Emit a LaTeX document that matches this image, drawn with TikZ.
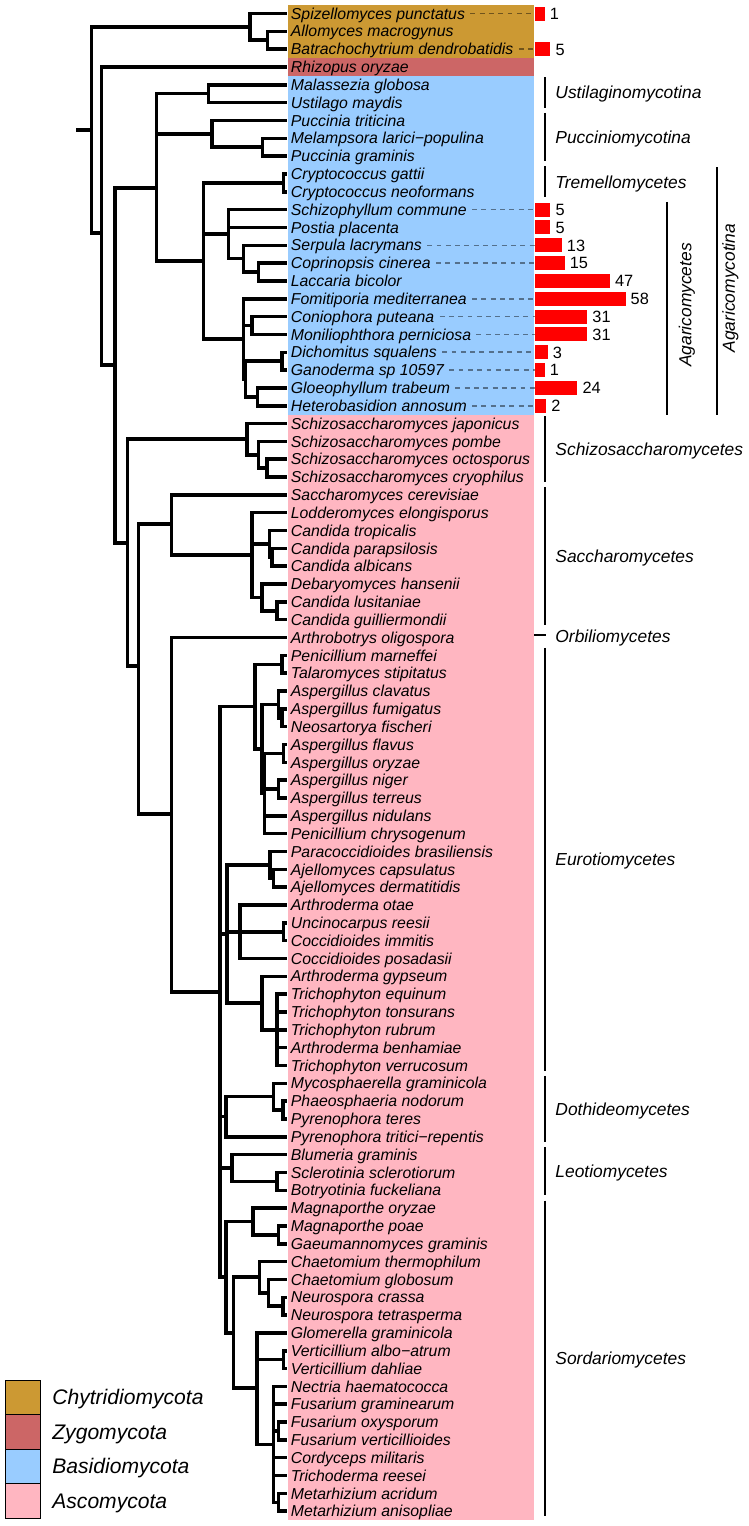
\documentclass[tikz,border=0pt]{standalone}
\usepackage{fontspec}
\setmainfont{Liberation Sans}
\definecolor{chy}{HTML}{CC9933}
\definecolor{zyg}{HTML}{CC6666}
\definecolor{bas}{HTML}{99CCFF}
\definecolor{asc}{HTML}{FFB6C1}
\tikzset{
  br/.style={line width=2pt, line join=miter},
  sp/.style={anchor=west, inner sep=0pt, font=\itshape\fontsize{9}{10}\selectfont, text height=6.44pt, text depth=0pt},
  barbox/.style={anchor=west, fill=red, draw=none, inner sep=0pt, minimum height=0.28cm},
  numlab/.style={anchor=west, inner sep=0pt, font=\fontsize{9.3}{10}\selectfont, text height=6.66pt, text depth=0pt},
  dsh/.style={line width=0.9pt, draw=black, draw opacity=0.45, dash pattern=on 2.8pt off 2.5pt},
  cladeline/.style={line width=1.4pt},
  cladelab/.style={anchor=west, inner sep=0pt, font=\itshape\fontsize{9.9}{11}\selectfont, text height=7.09pt, text depth=0pt},
  legbox/.style={draw=black, line width=0.5pt, minimum width=0.7cm, minimum height=0.69cm, inner sep=0pt},
  leglab/.style={anchor=west, inner sep=0pt, font=\itshape\fontsize{12}{14}\selectfont, text height=8.6pt, text depth=0pt},
}
\begin{document}
\begin{tikzpicture}[x=0.02cm, y=-0.3566cm]
\useasboundingbox (0,0.2429) rectangle (748,85.83);

% coloured bands
\fill[chy] (287.5,0.5) rectangle (534,3.5);
\fill[zyg] (287.5,3.5) rectangle (534,4.5);
\fill[bas] (287.5,4.5) rectangle (534,23.5);
\fill[asc] (287.5,23.5) rectangle (534,85.5);

% leaves and labels
\foreach \i/\nm in {
1/Spizellomyces punctatus, 2/Allomyces macrogynus, 3/Batrachochytrium dendrobatidis,
4/Rhizopus oryzae, 5/Malassezia globosa, 6/Ustilago maydis, 7/Puccinia triticina,
8/Melampsora larici−populina, 9/Puccinia graminis, 10/Cryptococcus gattii,
11/Cryptococcus neoformans, 12/Schizophyllum commune, 13/Postia placenta,
14/Serpula lacrymans, 15/Coprinopsis cinerea, 16/Laccaria bicolor,
17/Fomitiporia mediterranea, 18/Coniophora puteana, 19/Moniliophthora perniciosa,
20/Dichomitus squalens, 21/Ganoderma sp 10597, 22/Gloeophyllum trabeum,
23/Heterobasidion annosum, 24/Schizosaccharomyces japonicus, 25/Schizosaccharomyces pombe,
26/Schizosaccharomyces octosporus, 27/Schizosaccharomyces cryophilus,
28/Saccharomyces cerevisiae, 29/Lodderomyces elongisporus, 30/Candida tropicalis,
31/Candida parapsilosis, 32/Candida albicans, 33/Debaryomyces hansenii,
34/Candida lusitaniae, 35/Candida guilliermondii, 36/Arthrobotrys oligospora,
37/Penicillium marneffei, 38/Talaromyces stipitatus, 39/Aspergillus clavatus,
40/Aspergillus fumigatus, 41/Neosartorya fischeri, 42/Aspergillus flavus,
43/Aspergillus oryzae, 44/Aspergillus niger, 45/Aspergillus terreus,
46/Aspergillus nidulans, 47/Penicillium chrysogenum, 48/Paracoccidioides brasiliensis,
49/Ajellomyces capsulatus, 50/Ajellomyces dermatitidis, 51/Arthroderma otae,
52/Uncinocarpus reesii, 53/Coccidioides immitis, 54/Coccidioides posadasii,
55/Arthroderma gypseum, 56/Trichophyton equinum, 57/Trichophyton tonsurans,
58/Trichophyton rubrum, 59/Arthroderma benhamiae, 60/Trichophyton verrucosum,
61/Mycosphaerella graminicola, 62/Phaeosphaeria nodorum, 63/Pyrenophora teres,
64/Pyrenophora tritici−repentis, 65/Blumeria graminis, 66/Sclerotinia sclerotiorum,
67/Botryotinia fuckeliana, 68/Magnaporthe oryzae, 69/Magnaporthe poae,
70/Gaeumannomyces graminis, 71/Chaetomium thermophilum, 72/Chaetomium globosum,
73/Neurospora crassa, 74/Neurospora tetrasperma, 75/Glomerella graminicola,
76/Verticillium albo−atrum, 77/Verticillium dahliae, 78/Nectria haematococca,
79/Fusarium graminearum, 80/Fusarium oxysporum, 81/Fusarium verticillioides,
82/Cordyceps militaris, 83/Trichoderma reesei, 84/Metarhizium acridum,
85/Metarhizium anisopliae}{
  \coordinate (L\i) at (287,\i);
  \node[sp] (n\i) at (290.5,\i) {\nm};
}

% internal nodes
\coordinate (rs) at (76,7.53);
\coordinate (root) at (91.7,7.53);
\coordinate (Ch) at (250,1.75);
\coordinate (Ch2) at (267.3,2.5);
\coordinate (A) at (101.7,13.31);
\coordinate (B) at (115,20.7);
\coordinate (Ba) at (156.7,10.79);
\coordinate (Us) at (208.3,5.5);
\coordinate (Pu) at (211.7,7.75);
\coordinate (Pu2) at (262.3,8.5);
\coordinate (Ag) at (203.3,14.875);
\coordinate (Tr) at (283.3,10.5);
\coordinate (C) at (228.3,13.375);
\coordinate (E) at (243.3,14.75);
\coordinate (F) at (258.3,15.5);
\coordinate (D) at (243.3,19.25);
\coordinate (G) at (251.7,18.5);
\coordinate (D2) at (245.5,21.5);
\coordinate (H) at (281.7,20.5);
\coordinate (I) at (257.3,22.5);
\coordinate (As) at (127.7,30.7);
\coordinate (Sc) at (246.7,24.875);
\coordinate (Sc2) at (258.3,25.75);
\coordinate (Sc3) at (266.7,26.5);
\coordinate (Pz) at (138.3,37.6);
\coordinate (Sa) at (171.7,29.63);
\coordinate (Sa2) at (251.7,31.375);
\coordinate (Cd) at (269.3,30.75);
\coordinate (Cd2) at (271.7,31.5);
\coordinate (Sa3) at (261.7,33.75);
\coordinate (Sa4) at (276.7,34.5);
\coordinate (Pe) at (171.7,45.9);
\coordinate (Pe2) at (220,55.875);
\coordinate (Eu) at (255,39.875);
\coordinate (Ta) at (281.7,37.5);
\coordinate (Asp1) at (261.7,42.25);
\coordinate (Cl) at (278.3,39.75);
\coordinate (Cl2) at (281.7,40.5);
\coordinate (Asp3) at (264.3,44.75);
\coordinate (Fl) at (283.3,42.5);
\coordinate (Ni) at (278.3,44.5);
\coordinate (On) at (226.7,52.625);
\coordinate (Par) at (270,48.75);
\coordinate (Aj) at (273.3,49.5);
\coordinate (On2) at (240,52.5);
\coordinate (UC) at (283.3,52.5);
\coordinate (Ar) at (261.7,56.5);
\coordinate (Tri) at (276.7,58);
\coordinate (Do) at (225.7,62.875);
\coordinate (Do1) at (273.3,61.75);
\coordinate (Do2) at (282.7,62.5);
\coordinate (Le) at (231.7,65.75);
\coordinate (Le2) at (276.7,66.5);
\coordinate (So) at (225.7,71.875);
\coordinate (Mg) at (252.7,68.75);
\coordinate (Mg2) at (278.3,69.5);
\coordinate (So2) at (233.3,75);
\coordinate (Sd1) at (259.3,71.875);
\coordinate (Sd2) at (268.3,72.75);
\coordinate (Sd3) at (282.7,73.5);
\coordinate (Hyp) at (256.7,78.1);
\coordinate (Vt) at (283.3,76.5);
\coordinate (Nec) at (273.3,81.25);
\coordinate (Fox) at (278.3,80.5);
\coordinate (Met) at (278.3,84.5);

% branches
\draw[br] (rs) -- (root);
\foreach \p/\c in {
root/Ch, root/A, Ch/L1, Ch/Ch2, Ch2/L2, Ch2/L3, A/L4, A/B, B/Ba, B/As,
Ba/Us, Ba/Pu, Ba/Ag, Us/L5, Us/L6, Pu/L7, Pu/Pu2, Pu2/L8, Pu2/L9,
Ag/Tr, Ag/C, Ag/D, Tr/L10, Tr/L11,
C/L12, C/L13, C/E, E/L14, E/F, F/L15, F/L16,
D/L17, D/G, D/D2, G/L18, G/L19, D2/H, D2/I, H/L20, H/L21, I/L22, I/L23,
As/Sc, As/Pz, Sc/L24, Sc/Sc2, Sc2/L25, Sc2/Sc3, Sc3/L26, Sc3/L27,
Pz/Sa, Pz/Pe, Sa/L28, Sa/Sa2, Sa2/L29, Sa2/Cd, Sa2/Sa3, Cd/L30, Cd/Cd2,
Cd2/L31, Cd2/L32, Sa3/L33, Sa3/Sa4, Sa4/L34, Sa4/L35,
Pe/L36, Pe/Pe2, Pe2/Eu, Pe2/On, Pe2/Do, Pe2/Le, Pe2/So,
Eu/Ta, Eu/Asp1, Ta/L37, Ta/L38, Asp1/Cl, Asp1/Asp3, Cl/L39, Cl/Cl2, Cl2/L40, Cl2/L41,
Asp3/Fl, Asp3/Ni, Asp3/L46, Asp3/L47, Fl/L42, Fl/L43, Ni/L44, Ni/L45,
On/Par, On/On2, On/Ar, Par/L48, Par/Aj, Aj/L49, Aj/L50, On2/L51, On2/UC, On2/L54,
UC/L52, UC/L53, Ar/L55, Ar/Tri, Tri/L56, Tri/L57, Tri/L58, Tri/L59, Tri/L60,
Do/Do1, Do/L64, Do1/L61, Do1/Do2, Do2/L62, Do2/L63,
Le/L65, Le/Le2, Le2/L66, Le2/L67,
So/Mg, So/So2, Mg/L68, Mg/Mg2, Mg2/L69, Mg2/L70,
So2/Sd1, So2/Hyp, Sd1/L71, Sd1/Sd2, Sd2/L72, Sd2/Sd3, Sd3/L73, Sd3/L74,
Hyp/L75, Hyp/Vt, Hyp/Nec, Vt/L76, Vt/L77,
Nec/L78, Nec/L79, Nec/Fox, Nec/L82, Nec/L83, Nec/Met, Fox/L80, Fox/L81, Met/L84, Met/L85}{
  \draw[br] (\p) |- (\c);
}

% bars and counts
\foreach \i/\val in {1/1, 3/5, 12/5, 13/5, 14/13, 15/15, 16/47, 17/58, 18/31, 19/31, 20/3, 21/1, 22/24, 23/2}{
  \node[barbox, minimum width={(7.9+1.416*\val)*0.02cm}] (b\i) at (535,\i) {};
  \node[numlab] (v\i) at ([xshift=0.09cm]b\i.east) {\val};
}
\foreach \i in {1,3,12,14,15,17,18,19,20,21,22,23}{
  \draw[dsh] ([xshift=0.1cm]n\i.east) -- (b\i.west);
}

% clade markers
\draw[cladeline] (545,4.58) -- (545,6.3);
\node[cladelab] (c1) at (555,5.44) {Ustilaginomycotina};
\draw[cladeline] (545,6.58) -- (545,9.29);
\node[cladelab] (c2) at (555,7.94) {Pucciniomycotina};
\draw[cladeline] (545,9.58) -- (545,11.29);
\node[cladelab] (c3) at (555,10.44) {Tremellomycetes};
\draw[cladeline] (667,11.57) -- (667,23.52);
\node[cladelab, anchor=center, rotate=90] (c4) at (685,17.35) {Agaricomycetes};
\draw[cladeline] (717,9.61) -- (717,23.52);
\node[cladelab, anchor=center, rotate=90] (c5) at (728.5,16.4) {Agaricomycotina};
\draw[cladeline] (545,23.58) -- (545,27.29);
\node[cladelab] (c6) at (555,25.44) {Schizosaccharomycetes};
\draw[cladeline] (545,27.58) -- (545,35.29);
\node[cladelab] (c7) at (555,31.44) {Saccharomycetes};
\draw[cladeline] (534,35.85) -- (546,35.85);
\node[cladelab] (c8) at (555,35.94) {Orbiliomycetes};
\draw[cladeline] (545,36.58) -- (545,60.29);
\node[cladelab] (c9) at (555,48.44) {Eurotiomycetes};
\draw[cladeline] (545,60.58) -- (545,64.29);
\node[cladelab] (c10) at (555,62.44) {Dothideomycetes};
\draw[cladeline] (545,64.58) -- (545,67.29);
\node[cladelab] (c11) at (555,65.94) {Leotiomycetes};
\draw[cladeline] (545,67.58) -- (545,85.29);
\node[cladelab] (c12) at (555,76.44) {Sordariomycetes};

% legend
\node[legbox, fill=chy] (k1) at (22.5,78.61) {};
\node[legbox, fill=zyg] (k2) at (22.5,80.545) {};
\node[legbox, fill=bas] (k3) at (22.5,82.48) {};
\node[legbox, fill=asc] (k4) at (22.5,84.415) {};
\node[leglab] (t1) at (52,78.61) {Chytridiomycota};
\node[leglab] (t2) at (52,80.545) {Zygomycota};
\node[leglab] (t3) at (52,82.48) {Basidiomycota};
\node[leglab] (t4) at (52,84.415) {Ascomycota};
\end{tikzpicture}
\end{document}
